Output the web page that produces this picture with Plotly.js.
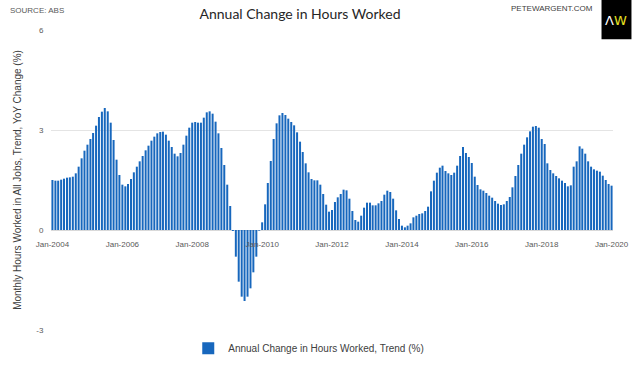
<!DOCTYPE html>
<html>
<head>
<meta charset="utf-8">
<script src="https://cdn.plot.ly/plotly-3.0.1.min.js"></script>
<style>html,body{margin:0;padding:0;background:#fff;}#chart{width:640px;height:375px;}</style>
</head>
<body>
<div id="chart"></div>
<script>
// First month of the series, monthly data (Jan-2004 .. Jan-2020)
const startYear = 2004;
const startMonth = 1;

// Annual change in hours worked, trend (%), one value per month
const hoursChange = [
  // 2004
  1.50, 1.48, 1.48, 1.51, 1.54, 1.57, 1.58, 1.60, 1.70, 1.90, 2.15, 2.38,
  // 2005
  2.56, 2.73, 2.91, 3.13, 3.39, 3.55, 3.66, 3.56, 3.22, 2.70, 2.11, 1.65,
  // 2006
  1.36, 1.31, 1.38, 1.53, 1.73, 1.90, 2.06, 2.22, 2.39, 2.53, 2.68, 2.80,
  // 2007
  2.90, 2.94, 2.95, 2.86, 2.68, 2.49, 2.29, 2.21, 2.31, 2.56, 2.83, 3.07,
  // 2008
  3.22, 3.24, 3.22, 3.22, 3.37, 3.53, 3.56, 3.49, 3.25, 2.90, 2.46, 1.95,
  // 2009
  1.36, 0.72, -0.03, -0.80, -1.55, -2.00, -2.13, -2.00, -1.75, -1.27, -0.80, -0.02,
  // 2010
  0.23, 0.77, 1.41, 2.07, 2.73, 3.20, 3.44, 3.51, 3.45, 3.34, 3.24, 3.14,
  // 2011
  2.93, 2.65, 2.34, 2.00, 1.73, 1.53, 1.49, 1.49, 1.36, 1.08, 0.76, 0.55,
  // 2012
  0.60, 0.84, 0.98, 1.08, 1.21, 1.19, 0.94, 0.57, 0.30, 0.25, 0.43, 0.67,
  // 2013
  0.82, 0.82, 0.74, 0.74, 0.80, 0.87, 1.06, 1.18, 1.14, 0.94, 0.59, 0.33,
  // 2014
  0.13, 0.08, 0.13, 0.20, 0.38, 0.43, 0.48, 0.50, 0.57, 0.70, 1.16, 1.48,
  // 2015
  1.72, 1.87, 1.93, 1.77, 1.70, 1.65, 1.72, 1.93, 2.22, 2.49, 2.31, 2.19,
  // 2016
  2.01, 1.60, 1.35, 1.22, 1.18, 1.11, 1.03, 0.97, 0.87, 0.79, 0.75, 0.77,
  // 2017
  0.87, 0.99, 1.28, 1.62, 1.95, 2.29, 2.56, 2.78, 2.96, 3.10, 3.12, 3.07,
  // 2018
  2.73, 2.58, 2.00, 1.80, 1.70, 1.62, 1.55, 1.48, 1.41, 1.31, 1.34, 1.90,
  // 2019
  2.06, 2.51, 2.44, 2.29, 2.06, 1.90, 1.82, 1.78, 1.75, 1.63, 1.50, 1.38,
  // 2020
  1.33
];

// y-axis ticks
const yTickVals = [-3, 0, 3, 6];
const yTickText = ['-3', '0', '3', '6'];

const seriesName = 'Annual Change in Hours Worked, Trend (%)';
const chartTitle = 'Annual Change in Hours Worked';
const yTitle = 'Monthly Hours Worked in All Jobs, Trend, YoY Change (%)';
const sourceText = 'SOURCE: ABS';
const siteText = 'PETEWARGENT.COM';

// month dates for the category positions
const months = hoursChange.map(function (_, k) {
  const idx = (startMonth - 1) + k;
  const y = startYear + Math.floor(idx / 12);
  const m = (idx % 12) + 1;
  return y + '-' + (m < 10 ? '0' + m : m) + '-01';
});

const FONT = 'Liberation Sans, Arial, sans-serif';

const trace = {
  type: 'bar',
  x: months,
  y: hoursChange,
  name: seriesName,
  marker: { color: '#1767bd', line: { width: 0 } },
  hoverinfo: 'x+y'
};

// plot area in px: left 50.5, right 613.5, top 30.5, bottom 336.5
const L = 50.5, R = 613.5, T = 30.5, B = 336.5;
const px = function (x) { return (x - L) / (R - L); };
const py = function (y) { return (B - y) / (B - T); };

const layout = {
  width: 640,
  height: 375,
  margin: { l: L, r: 640 - R, t: T, b: 375 - B, pad: 0 },
  paper_bgcolor: '#ffffff',
  plot_bgcolor: '#ffffff',
  font: { family: FONT, size: 8, color: '#595959' },
  bargap: 0.25,
  showlegend: true,
  title: {
    text: chartTitle,
    font: { family: 'Lato, Open Sans, sans-serif', size: 14, color: '#262626' },
    xref: 'container', x: 300 / 640, xanchor: 'center',
    yref: 'container', y: 1 - 14 / 375, yanchor: 'middle'
  },
  xaxis: {
    type: 'date',
    range: ['2003-12-17', '2020-01-16'],
    tick0: '2004-01-01',
    dtick: 'M24',
    tickformat: '%b-%Y',
    ticks: 'outside',
    ticklen: 6,
    tickcolor: 'rgba(0,0,0,0)',
    tickfont: { family: FONT, size: 8, color: '#595959' },
    showgrid: false,
    zeroline: false,
    showline: false,
    anchor: 'free',
    position: 1 / 3,
    fixedrange: true
  },
  yaxis: {
    range: [-3, 6],
    tickmode: 'array',
    tickvals: yTickVals,
    ticktext: yTickText,
    ticks: 'outside',
    ticklen: 5,
    tickcolor: 'rgba(0,0,0,0)',
    tickfont: { family: FONT, size: 8, color: '#595959' },
    showgrid: true,
    gridcolor: '#e4e4e4',
    gridwidth: 1,
    zeroline: true,
    zerolinecolor: '#d9d9d9',
    zerolinewidth: 1,
    showline: false,
    fixedrange: true,
    title: {
      text: yTitle,
      font: { family: FONT, size: 10, color: '#404040' },
      standoff: 12
    }
  },
  legend: {
    orientation: 'h',
    x: px(188), xanchor: 'left',
    y: py(355), yanchor: 'middle',
    font: { family: FONT, size: 10, color: '#404040' },
    bgcolor: 'rgba(0,0,0,0)'
  },
  shapes: [
    {
      type: 'rect', xref: 'paper', yref: 'paper',
      x0: px(602), x1: px(632), y0: py(40), y1: py(-2),
      fillcolor: '#000000', line: { width: 0 }, layer: 'above'
    }
  ],
  annotations: [
    {
      text: sourceText, xref: 'paper', yref: 'paper',
      x: px(7), y: py(11), xanchor: 'left', yanchor: 'middle',
      showarrow: false, font: { family: FONT, size: 8, color: '#595959' }
    },
    {
      text: siteText, xref: 'paper', yref: 'paper',
      x: px(595), y: py(9), xanchor: 'right', yanchor: 'middle',
      showarrow: false, font: { family: FONT, size: 8, color: '#404040' }
    },
    {
      text: '<span style="color:#ffffff">Λ</span><span style="color:#e8e020">W</span>',
      xref: 'paper', yref: 'paper',
      x: px(617), y: py(21), xanchor: 'center', yanchor: 'middle',
      showarrow: false, font: { family: 'DejaVu Sans, sans-serif', size: 13, color: '#ffffff' }
    }
  ]
};

Plotly.newPlot('chart', [trace], layout, { displayModeBar: false, staticPlot: true });
</script>
</body>
</html>
